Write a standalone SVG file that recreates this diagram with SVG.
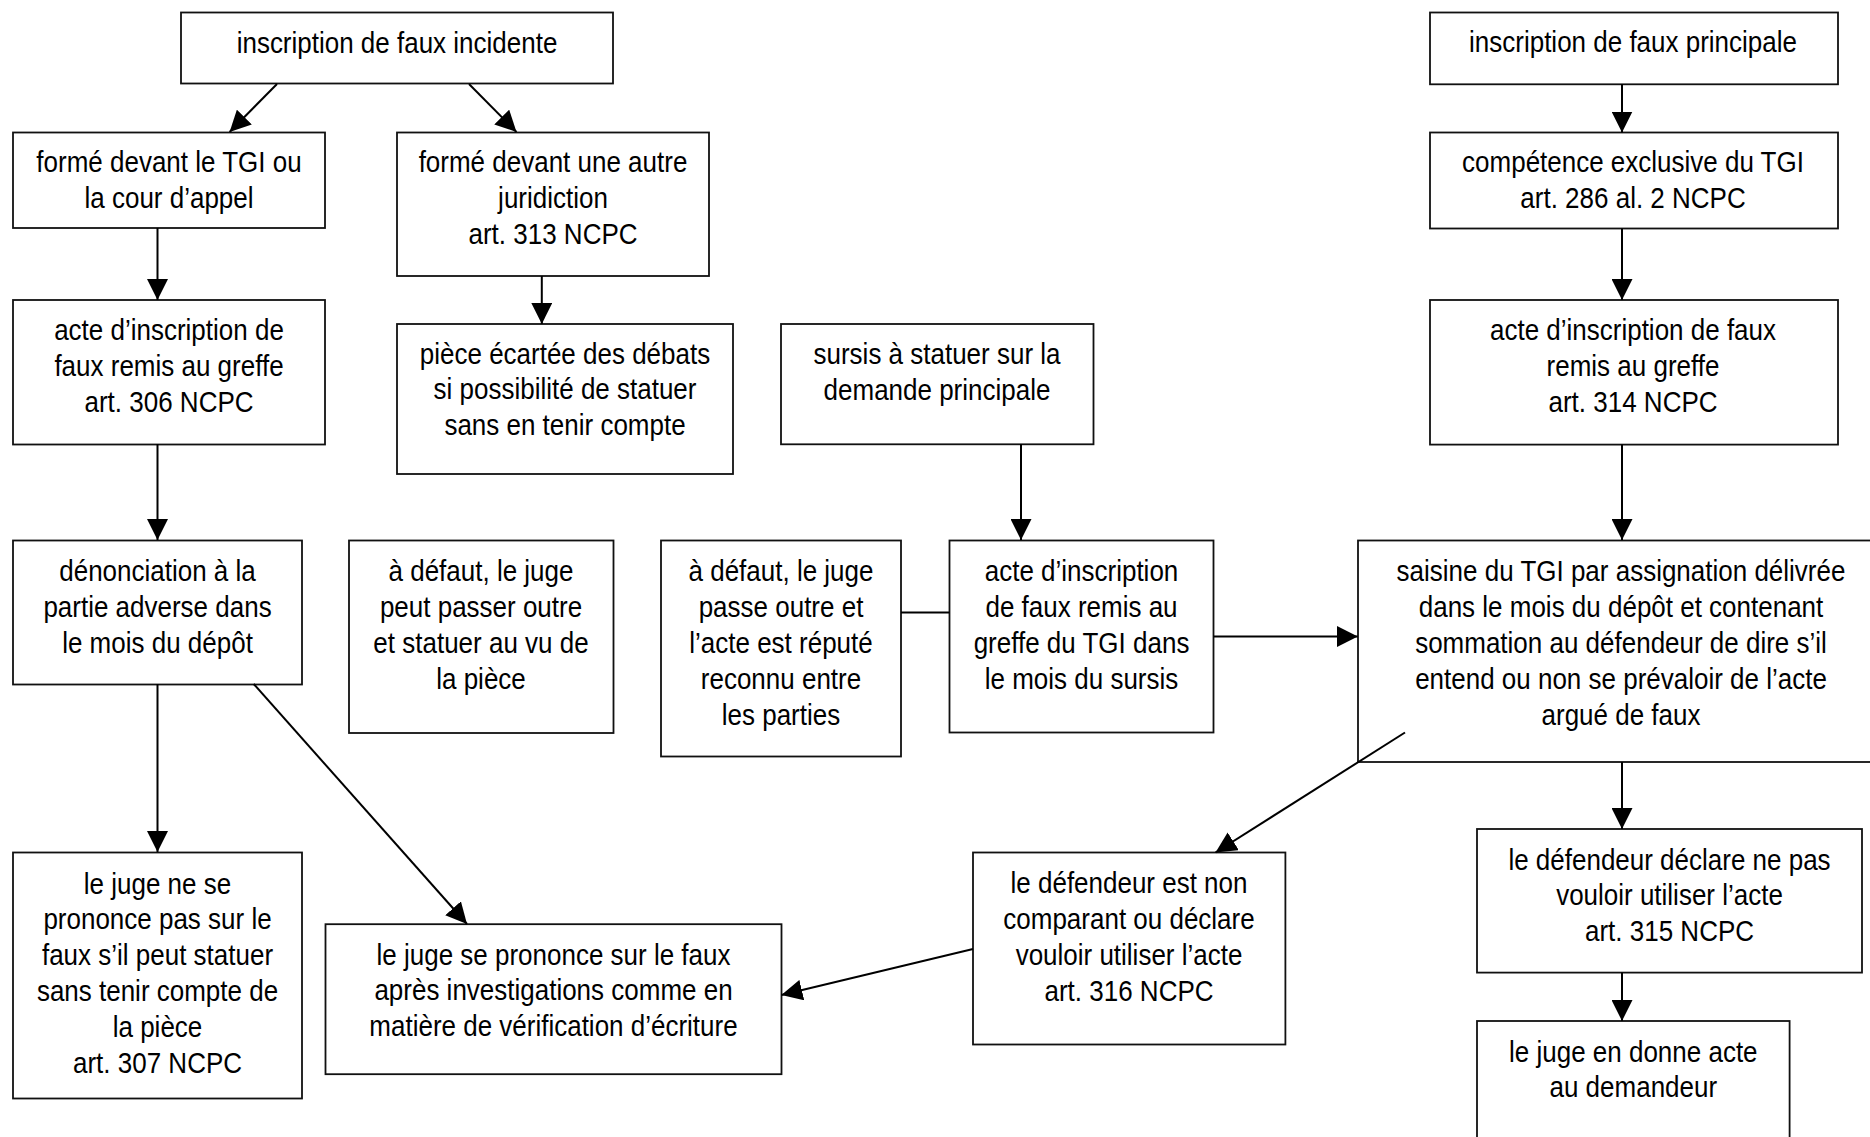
<svg xmlns="http://www.w3.org/2000/svg" width="1870" height="1137" viewBox="0 0 1870 1137">
<style>
.b{fill:#fff;stroke:#111;stroke-width:1.8}
.t{font-family:"Liberation Sans",Arial,sans-serif;font-size:26px;text-anchor:middle;fill:#000}
.c{stroke:#000;stroke-width:2;fill:none}
.a{marker-end:url(#ah)}
</style>
<defs>
<marker id="ah" markerUnits="userSpaceOnUse" markerWidth="21" markerHeight="21" refX="20" refY="10" orient="auto" viewBox="0 0 20 20">
<path d="M0,0 L20,10 L0,20 z" fill="#000"/>
</marker>
</defs>
<rect width="1870" height="1137" fill="#fff"/>
<g id="n1"><rect class="b" x="181" y="12.5" width="432" height="71"/>
<text class="t" transform="translate(397 52.5) scale(1 1.11)"><tspan x="0" y="0">inscription de faux incidente</tspan></text></g>
<g id="n2"><rect class="b" x="13" y="132.5" width="312" height="95.5"/>
<text class="t" transform="translate(169 172) scale(1 1.11)"><tspan x="0" y="0">formé devant le TGI ou</tspan><tspan x="0" dy="32.4">la cour d’appel</tspan></text></g>
<g id="n3"><rect class="b" x="397" y="132.5" width="312" height="143.5"/>
<text class="t" transform="translate(553 172) scale(1 1.11)"><tspan x="0" y="0">formé devant une autre</tspan><tspan x="0" dy="32.4">juridiction</tspan><tspan x="0" dy="32.4">art. 313 NCPC</tspan></text></g>
<g id="n4"><rect class="b" x="13" y="300" width="312" height="144.5"/>
<text class="t" transform="translate(169 340) scale(1 1.11)"><tspan x="0" y="0">acte d’inscription de</tspan><tspan x="0" dy="32.4">faux remis au greffe</tspan><tspan x="0" dy="32.4">art. 306 NCPC</tspan></text></g>
<g id="n5"><rect class="b" x="397" y="324" width="336" height="150"/>
<text class="t" transform="translate(565 363.5) scale(1 1.11)"><tspan x="0" y="0">pièce écartée des débats</tspan><tspan x="0" dy="32.4">si possibilité de statuer</tspan><tspan x="0" dy="32.4">sans en tenir compte</tspan></text></g>
<g id="n6"><rect class="b" x="781" y="324" width="312.5" height="120.3"/>
<text class="t" transform="translate(937 364) scale(1 1.11)"><tspan x="0" y="0">sursis à statuer sur la</tspan><tspan x="0" dy="32.4">demande principale</tspan></text></g>
<g id="n7"><rect class="b" x="1430" y="12.5" width="408" height="71.8"/>
<text class="t" transform="translate(1633 52) scale(1 1.11)"><tspan x="0" y="0">inscription de faux principale</tspan></text></g>
<g id="n8"><rect class="b" x="1430" y="132.5" width="408" height="96"/>
<text class="t" transform="translate(1633 172) scale(1 1.11)"><tspan x="0" y="0">compétence exclusive du TGI</tspan><tspan x="0" dy="32.4">art. 286 al. 2 NCPC</tspan></text></g>
<g id="n9"><rect class="b" x="1430" y="300" width="408" height="144.6"/>
<text class="t" transform="translate(1633 340) scale(1 1.11)"><tspan x="0" y="0">acte d’inscription de faux</tspan><tspan x="0" dy="32.4">remis au greffe</tspan><tspan x="0" dy="32.4">art. 314 NCPC</tspan></text></g>
<g id="n10"><rect class="b" x="13" y="540.5" width="289" height="144"/>
<text class="t" transform="translate(157.5 581) scale(1 1.11)"><tspan x="0" y="0">dénonciation à la</tspan><tspan x="0" dy="32.4">partie adverse dans</tspan><tspan x="0" dy="32.4">le mois du dépôt</tspan></text></g>
<g id="n11"><rect class="b" x="349" y="540.5" width="264.5" height="192.5"/>
<text class="t" transform="translate(481 581) scale(1 1.11)"><tspan x="0" y="0">à défaut, le juge</tspan><tspan x="0" dy="32.4">peut passer outre</tspan><tspan x="0" dy="32.4">et statuer au vu de</tspan><tspan x="0" dy="32.4">la pièce</tspan></text></g>
<g id="n12"><rect class="b" x="661" y="540.5" width="240" height="216"/>
<text class="t" transform="translate(781 581) scale(1 1.11)"><tspan x="0" y="0">à défaut, le juge</tspan><tspan x="0" dy="32.4">passe outre et</tspan><tspan x="0" dy="32.4">l’acte est réputé</tspan><tspan x="0" dy="32.4">reconnu entre</tspan><tspan x="0" dy="32.4">les parties</tspan></text></g>
<g id="n13"><rect class="b" x="949.5" y="540.5" width="264" height="192"/>
<text class="t" transform="translate(1081.5 581) scale(1 1.11)"><tspan x="0" y="0">acte d’inscription</tspan><tspan x="0" dy="32.4">de faux remis au</tspan><tspan x="0" dy="32.4">greffe du TGI dans</tspan><tspan x="0" dy="32.4">le mois du sursis</tspan></text></g>
<g id="n14"><rect class="b" x="1358" y="540.5" width="530" height="221.5"/>
<text class="t" transform="translate(1621 581) scale(1 1.11)"><tspan x="0" y="0">saisine du TGI par assignation délivrée</tspan><tspan x="0" dy="32.4">dans le mois du dépôt et contenant</tspan><tspan x="0" dy="32.4">sommation au défendeur de dire s’il</tspan><tspan x="0" dy="32.4">entend ou non se prévaloir de l’acte</tspan><tspan x="0" dy="32.4">argué de faux</tspan></text></g>
<g id="n15"><rect class="b" x="13" y="852.5" width="289" height="246"/>
<text class="t" transform="translate(157.5 893.5) scale(1 1.11)"><tspan x="0" y="0">le juge ne se</tspan><tspan x="0" dy="32.4">prononce pas sur le</tspan><tspan x="0" dy="32.4">faux s’il peut statuer</tspan><tspan x="0" dy="32.4">sans tenir compte de</tspan><tspan x="0" dy="32.4">la pièce</tspan><tspan x="0" dy="32.4">art. 307 NCPC</tspan></text></g>
<g id="n16"><rect class="b" x="325.5" y="924.2" width="456" height="150"/>
<text class="t" transform="translate(553.5 964.5) scale(1 1.11)"><tspan x="0" y="0">le juge se prononce sur le faux</tspan><tspan x="0" dy="32.4">après investigations comme en</tspan><tspan x="0" dy="32.4">matière de vérification d’écriture</tspan></text></g>
<g id="n17"><rect class="b" x="973" y="852.5" width="312.4" height="192"/>
<text class="t" transform="translate(1129 893) scale(1 1.11)"><tspan x="0" y="0">le défendeur est non</tspan><tspan x="0" dy="32.4">comparant ou déclare</tspan><tspan x="0" dy="32.4">vouloir utiliser l’acte</tspan><tspan x="0" dy="32.4">art. 316 NCPC</tspan></text></g>
<g id="n18"><rect class="b" x="1477" y="829" width="385" height="143.6"/>
<text class="t" transform="translate(1669.5 869.5) scale(1 1.11)"><tspan x="0" y="0">le défendeur déclare ne pas</tspan><tspan x="0" dy="32.4">vouloir utiliser l’acte</tspan><tspan x="0" dy="32.4">art. 315 NCPC</tspan></text></g>
<g id="n19"><rect class="b" x="1477" y="1021" width="312.6" height="140"/>
<text class="t" transform="translate(1633.3 1061.5) scale(1 1.11)"><tspan x="0" y="0">le juge en donne acte</tspan><tspan x="0" dy="32.4">au demandeur</tspan></text></g>
<g id="connectors">
<line class="c a" x1="277" y1="84" x2="229.6" y2="132"/>
<line class="c a" x1="469" y1="84" x2="516.5" y2="132"/>
<line class="c a" x1="157.5" y1="228" x2="157.5" y2="300"/>
<line class="c a" x1="541.8" y1="276" x2="541.8" y2="324"/>
<line class="c a" x1="157.5" y1="444" x2="157.5" y2="540"/>
<line class="c a" x1="157.5" y1="684" x2="157.5" y2="852"/>
<line class="c a" x1="253.7" y1="684" x2="467" y2="924"/>
<line class="c a" x1="1021" y1="444" x2="1021" y2="540"/>
<line class="c" x1="901" y1="612.5" x2="949.5" y2="612.5"/>
<line class="c a" x1="1213.6" y1="636.5" x2="1357.8" y2="636.5"/>
<line class="c a" x1="1622" y1="84" x2="1622" y2="132.5"/>
<line class="c a" x1="1622" y1="228.6" x2="1622" y2="300"/>
<line class="c a" x1="1622" y1="444.6" x2="1622" y2="540"/>
<line class="c a" x1="1405" y1="732.5" x2="1215.5" y2="852.5"/>
<line class="c a" x1="1622" y1="762" x2="1622" y2="829"/>
<line class="c a" x1="1622" y1="972.6" x2="1622" y2="1021"/>
<line class="c a" x1="973" y1="949" x2="781.4" y2="995"/>
</g>
</svg>
